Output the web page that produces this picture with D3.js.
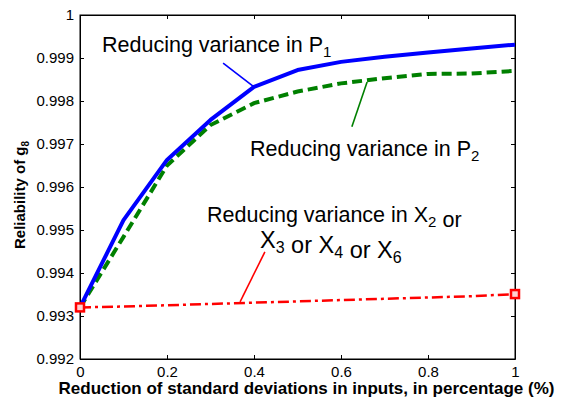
<!DOCTYPE html>
<html lang="en">
<head>
  <meta charset="UTF-8" />
  <title>Reliability of g8</title>
  <script src="https://d3js.org/d3.v7.min.js"></script>
  <style>
    body { margin: 0; background: #fff; }
    text { font-family: Arial, "Liberation Sans", sans-serif; fill: #000; }
  </style>
</head>
<body>
  <svg width="567" height="402"></svg>

  <script>
    // data
    const reduction = [0, 0.1, 0.2, 0.3, 0.4, 0.5, 0.6, 0.7, 0.8, 0.9, 1.0];
    const varP1 = [0.99320, 0.99523, 0.99663, 0.99756, 0.99833, 0.99872, 0.99891, 0.99903, 0.99913, 0.99922, 0.99931];
    const varP2 = [0.99320, 0.99484, 0.99650, 0.99744, 0.99795, 0.99822, 0.99841, 0.99853, 0.99863, 0.99864, 0.99870];
    const varX = [0.99320, 0.99322, 0.99325, 0.99328, 0.99331, 0.99334, 0.99337, 0.99340, 0.99343, 0.99346, 0.99351];
    const xTicks = [0, 0.2, 0.4, 0.6, 0.8, 1];
    const yTicks = [0.992, 0.993, 0.994, 0.995, 0.996, 0.997, 0.998, 0.999, 1];

    const svg = d3.select("svg");
    const margin = { top: 15, right: 52, bottom: 43, left: 80 };
    const W = 567, H = 402;

    const x = d3.scaleLinear().domain([0, 1]).range([margin.left, W - margin.right]);
    const y = d3.scaleLinear().domain([0.992, 1]).range([H - margin.bottom, margin.top]);

    // axes: ticks pointing inwards, mirrored on top and right
    const fmtX = d => d === 0 || d === 1 ? String(d) : d3.format(".1f")(d);
    const fmtY = d => d === 1 ? "1" : d3.format(".3f")(d);

    svg.append("g")
      .attr("transform", `translate(0,${y.range()[0]})`)
      .call(d3.axisBottom(x).tickValues(xTicks).tickFormat(fmtX).tickSizeInner(-4).tickSizeOuter(0).tickPadding(7));
    svg.append("g")
      .attr("transform", `translate(0,${y.range()[1]})`)
      .call(d3.axisTop(x).tickValues(xTicks).tickFormat("").tickSizeInner(-4).tickSizeOuter(0));
    svg.append("g")
      .attr("transform", `translate(${x.range()[0]},0)`)
      .call(d3.axisLeft(y).tickValues(yTicks).tickFormat(fmtY).tickSizeInner(-4).tickSizeOuter(0).tickPadding(6));
    svg.append("g")
      .attr("transform", `translate(${x.range()[1]},0)`)
      .call(d3.axisRight(y).tickValues(yTicks).tickFormat("").tickSizeInner(-4).tickSizeOuter(0));

    svg.selectAll(".domain").attr("stroke", "#000");
    svg.selectAll(".tick line").attr("stroke", "#000");
    svg.selectAll(".tick text")
      .attr("font-size", 15)
      .attr("font-family", "Arial, 'Liberation Sans', sans-serif")
      .attr("fill", "#000");

    svg.append("rect")
      .attr("x", x.range()[0]).attr("y", y.range()[1])
      .attr("width", x.range()[1] - x.range()[0])
      .attr("height", y.range()[0] - y.range()[1])
      .attr("fill", "none").attr("stroke", "#000");

    // series
    const line = d3.line().x((d, i) => x(reduction[i])).y(d => y(d));

    svg.append("path").datum(varX)
      .attr("d", line).attr("fill", "none")
      .attr("stroke", "#ff0000").attr("stroke-width", 2.5)
      .attr("stroke-dasharray", "11,4,3,4");

    svg.append("path").datum(varP2)
      .attr("d", line).attr("fill", "none")
      .attr("stroke", "#008000").attr("stroke-width", 4)
      .attr("stroke-dasharray", "10,5");

    svg.append("path").datum(varP1)
      .attr("d", line).attr("fill", "none")
      .attr("stroke", "#0000ff").attr("stroke-width", 4)
      .attr("stroke-linejoin", "round");

    // square markers on the red series ends
    const ends = [0, varX.length - 1];
    svg.selectAll(".mk").data(ends).enter().append("rect")
      .attr("x", i => x(reduction[i]) - 4)
      .attr("y", i => y(varX[i]) - 4)
      .attr("width", 8).attr("height", 8)
      .attr("fill", "#ffd0d0").attr("stroke", "#ff0000").attr("stroke-width", 2.5);

    // pointer lines for the annotations (data coordinates)
    const pointers = [
      { c: "#0000ff", x1: 0.329, y1: 0.99888, x2: 0.4, y2: 0.99833 },
      { c: "#008000", x1: 0.66, y1: 0.99844, x2: 0.625, y2: 0.99740 },
      { c: "#ff0000", x1: 0.368, y1: 0.99333, x2: 0.425, y2: 0.99449 }
    ];
    svg.selectAll(".ptr").data(pointers).enter().append("line")
      .attr("x1", d => x(d.x1)).attr("y1", d => y(d.y1))
      .attr("x2", d => x(d.x2)).attr("y2", d => y(d.y2))
      .attr("stroke", d => d.c).attr("stroke-width", 1.6);

    // annotation text, parts given as [text, isSubscript]
    function note(px, py, parts, size) {
      const t = svg.append("text").attr("x", px).attr("y", py).attr("font-size", size);
      parts.forEach(([s, isSub]) => {
        if (isSub) {
          t.append("tspan").attr("font-size", Math.round(size * 0.7)).attr("dy", 5).text(s);
          t.append("tspan").attr("font-size", size).attr("dy", -5).text("");
        } else {
          t.append("tspan").attr("font-size", size).text(s);
        }
      });
    }
    note(102, 52, [["Reducing variance in P"], ["1", true]], 21.5);
    note(250, 156, [["Reducing variance in P"], ["2", true]], 21.5);
    note(207, 222, [["Reducing variance in X"], ["2", true], [" or"]], 21.5);
    note(260, 248, [["X"], ["3", true], [" or X"], ["4", true], [" or X"], ["6", true]], 23.5);

    // axis titles
    svg.append("text")
      .attr("font-size", 17).attr("font-weight", "bold")
      .attr("x", (x.range()[0] + x.range()[1]) / 2 + 9).attr("y", 394)
      .attr("text-anchor", "middle")
      .text("Reduction of standard deviations in inputs, in percentage (%)");

    const yt = svg.append("text")
      .attr("font-size", 15).attr("font-weight", "bold")
      .attr("transform", `translate(25,${(y.range()[0] + y.range()[1]) / 2 + 8}) rotate(-90)`)
      .attr("text-anchor", "middle");
    yt.append("tspan").attr("font-size", 15).text("Reliability of g");
    yt.append("tspan").attr("font-size", 10).attr("dy", 4).text("8");
  </script>
</body>
</html>
